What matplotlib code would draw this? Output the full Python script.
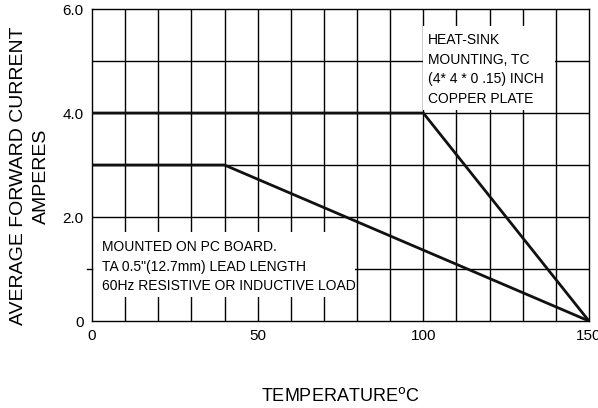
import matplotlib
matplotlib.use('Agg')
import matplotlib.pyplot as plt
from matplotlib.patches import Rectangle

# derating curves (temperature C, current A)
heatsink_t = [0, 100, 150]
heatsink_i = [4.0, 4.0, 0.0]
pcboard_t = [0, 40, 150]
pcboard_i = [3.0, 3.0, 0.0]

xticks = [0, 50, 100, 150]
yticks = [0, 2, 4, 6]
yticklabels = ['0', '2.0', '4.0', '6.0']

heatsink_note = ['HEAT-SINK', 'MOUNTING, TC', '(4* 4 * 0 .15) INCH', 'COPPER PLATE']
pcboard_note = ['MOUNTED ON PC BOARD.', 'TA 0.5"(12.7mm) LEAD LENGTH',
                '60Hz RESISTIVE OR INDUCTIVE LOAD']

plt.rcParams['font.family'] = ['Liberation Sans', 'DejaVu Sans']

fig = plt.figure(figsize=(5.98, 4.08), dpi=100)
ax = fig.add_axes([0.1538, 0.2132, 0.8311, 0.7647])
ax.set_xlim(0, 150)
ax.set_ylim(0, 6)

for x in range(10, 150, 10):
    ax.axvline(x, color='black', lw=1.0, zorder=1)
for y in range(1, 6):
    ax.axhline(y, color='black', lw=1.0, zorder=1)

# white areas behind the notes
ax.add_patch(Rectangle((0, 0.46), 79.4, 1.25, facecolor='white', edgecolor='none', zorder=2))
ax.add_patch(Rectangle((99.9, 4.06), 39.8, 1.61, facecolor='white', edgecolor='none', zorder=2))

ax.plot(heatsink_t, heatsink_i, color='#111111', lw=2, zorder=3)
ax.plot(pcboard_t, pcboard_i, color='#111111', lw=2, zorder=3)

for i, s in enumerate(heatsink_note):
    ax.text(101.5, 5.4 - i * 0.375, s, fontsize=10, va='center', zorder=4)
for i, s in enumerate(pcboard_note):
    ax.text(3, 1.42 - i * 0.375, s, fontsize=10, va='center', zorder=4)

ax.set_xticks(xticks)
ax.set_yticks(yticks)
ax.set_yticklabels(yticklabels)
ax.tick_params(length=0, labelsize=11, pad=6)
ax.plot([-1.5, 0], [1, 1], color='black', lw=1, clip_on=False)
for sp in ax.spines.values():
    sp.set_linewidth(1.0)

fig.text(0.031, 0.570, 'AVERAGE FORWARD CURRENT', rotation=90, fontsize=14,
         ha='center', va='center')
fig.text(0.069, 0.569, 'AMPERES', rotation=90, fontsize=14, ha='center', va='center')
fig.text(0.569, 0.03, 'TEMPERATURE$^{\\rm o}$C', fontsize=13, ha='center', va='center')

fig.savefig('out.png', dpi=100)
